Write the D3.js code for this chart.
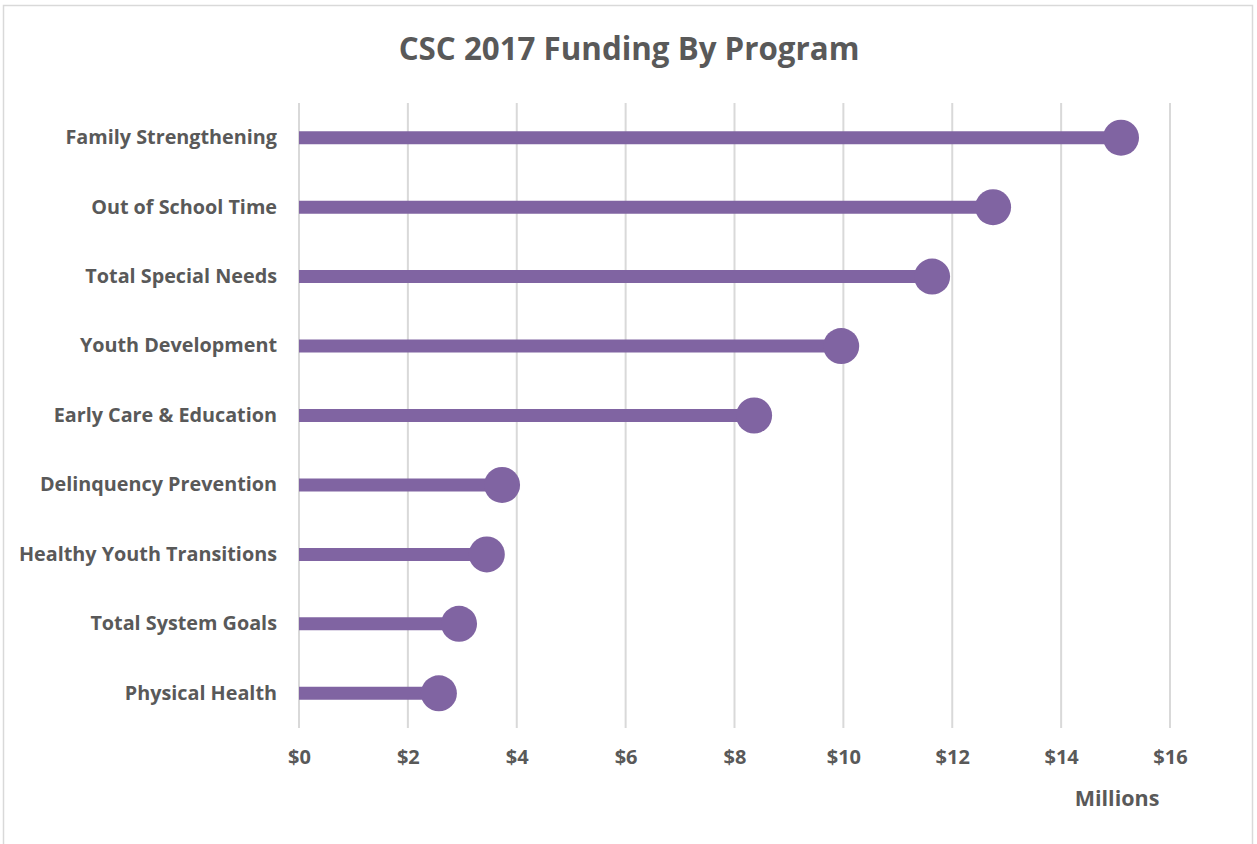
<!DOCTYPE html>
<html>
<head>
<meta charset="utf-8">
<script src="https://cdn.jsdelivr.net/npm/d3@7"></script>
<style>
  body { margin: 0; background: #fff; }
  svg text { font-family: "Open Sans", sans-serif; font-weight: bold; fill: #595959; }
</style>
</head>
<body>
<svg id="chart" width="1257" height="844"></svg>
<script>
// program names, top to bottom
var programs = [
    "Family Strengthening",
    "Out of School Time",
    "Total Special Needs",
    "Youth Development",
    "Early Care & Education",
    "Delinquency Prevention",
    "Healthy Youth Transitions",
    "Total System Goals",
    "Physical Health"
];

// funding in millions of dollars
var funding = [15.1, 12.75, 11.63, 9.96, 8.36, 3.73, 3.45, 2.94, 2.57];

var tickValues = [0, 2, 4, 6, 8, 10, 12, 14, 16];

window.addEventListener("load", function () {
    drawChart();
});

function drawChart() {
    var svg = d3.select("#chart"),
        margin = { top: 103, right: 87, bottom: 116, left: 299 },
        width = +svg.attr("width") - margin.left - margin.right,
        height = +svg.attr("height") - margin.top - margin.bottom;

    // outer frame
    svg.append("rect")
        .attr("x", 3.5).attr("y", 5.5)
        .attr("width", 1249).attr("height", 850)
        .attr("fill", "none")
        .attr("stroke", "#d9d9d9")
        .attr("stroke-width", 1.5);

    var x = d3.scaleLinear().domain([0, 16]).range([0, width]),
        y = d3.scaleBand().domain(programs).range([0, height]);

    var g = svg.append("g")
        .attr("transform", "translate(" + margin.left + "," + margin.top + ")");

    // vertical gridlines
    g.selectAll(".grid")
        .data(tickValues)
        .enter().append("line")
        .attr("class", "grid")
        .attr("x1", function (d) { return x(d); })
        .attr("x2", function (d) { return x(d); })
        .attr("y1", 0)
        .attr("y2", height)
        .attr("stroke", "#d9d9d9")
        .attr("stroke-width", 2);

    // x axis labels
    var xAxis = g.append("g")
        .attr("transform", "translate(0," + height + ")")
        .call(d3.axisBottom(x).tickValues(tickValues).tickSize(0).tickPadding(22)
            .tickFormat(function (d) { return "$" + d; }));
    xAxis.select(".domain").remove();
    xAxis.selectAll("text").style("font-size", "20px");

    // y axis labels
    var yAxis = g.append("g")
        .call(d3.axisLeft(y).tickSize(0).tickPadding(22));
    yAxis.select(".domain").remove();
    yAxis.selectAll("text").style("font-size", "19.8px");

    var data = programs.map(function (p, i) { return { name: p, value: funding[i] }; });

    // lollipop sticks
    g.selectAll(".stick")
        .data(data)
        .enter().append("line")
        .attr("class", "stick")
        .attr("x1", x(0))
        .attr("x2", function (d) { return x(d.value); })
        .attr("y1", function (d) { return y(d.name) + y.bandwidth() / 2; })
        .attr("y2", function (d) { return y(d.name) + y.bandwidth() / 2; })
        .attr("stroke", "#8064a2")
        .attr("stroke-width", 13);

    // lollipop heads
    g.selectAll(".dot")
        .data(data)
        .enter().append("circle")
        .attr("class", "dot")
        .attr("cx", function (d) { return x(d.value); })
        .attr("cy", function (d) { return y(d.name) + y.bandwidth() / 2; })
        .attr("r", 18)
        .attr("fill", "#8064a2");

    // title
    svg.append("text")
        .attr("x", 629)
        .attr("y", 60)
        .attr("text-anchor", "middle")
        .style("font-size", "31.3px")
        .text("CSC 2017 Funding By Program");

    // units label
    svg.append("text")
        .attr("x", 1117)
        .attr("y", 806)
        .attr("text-anchor", "middle")
        .style("font-size", "21.5px")
        .text("Millions");
}
</script>
</body>
</html>
